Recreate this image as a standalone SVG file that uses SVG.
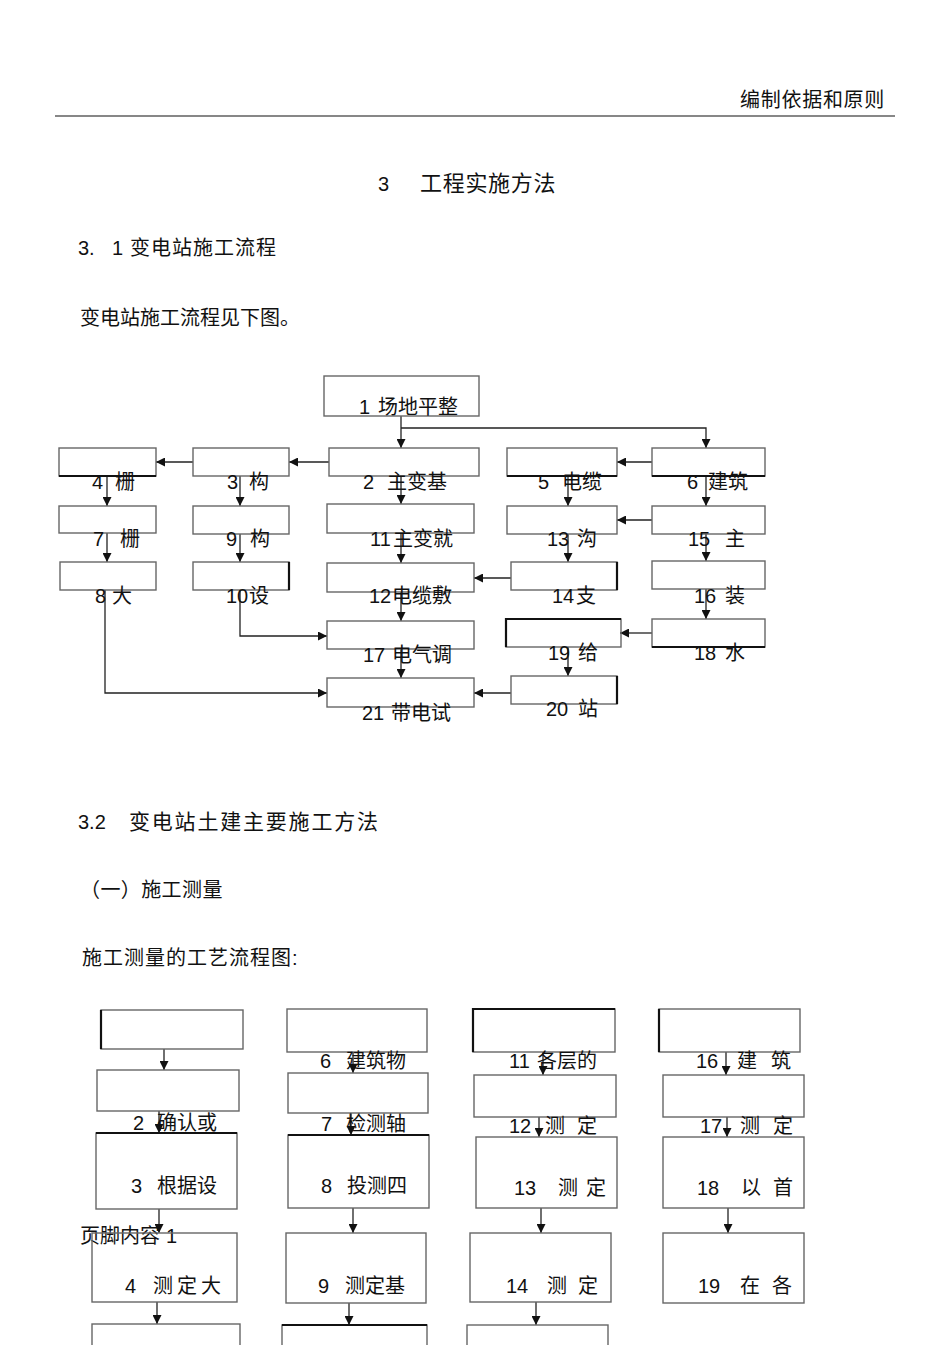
<svg xmlns="http://www.w3.org/2000/svg" width="950" height="1345" viewBox="0 0 950 1345">
<style>
text{font-family:"Liberation Sans","Noto Sans CJK SC",sans-serif;font-size:20px;fill:#111;}
.box{fill:none;stroke:#666;stroke-width:1.4;}
.edge{fill:none;stroke:#222;stroke-width:1.3;}
.thk{stroke:#111;stroke-width:2.2;fill:none;}
</style>
<defs>
<marker id="arr" viewBox="0 0 10 10" refX="10" refY="5" markerWidth="9" markerHeight="9" markerUnits="userSpaceOnUse" orient="auto" preserveAspectRatio="none">
<path d="M0,0 L10,5 L0,10 z" fill="#111"/>
</marker>
</defs>
<rect width="950" height="1345" fill="#fff"/>

<g id="page">
<text x="885" y="107" text-anchor="end" letter-spacing="0.7">编制依据和原则</text>
<line x1="55" y1="116" x2="895" y2="116" stroke="#111" stroke-width="1.2"/>
<text y="191"><tspan x="378">3</tspan><tspan x="420" font-size="22" letter-spacing="0.7">工程实施方法</tspan></text>
<text y="255"><tspan x="78">3.</tspan><tspan x="112">1</tspan><tspan x="130" letter-spacing="1">变电站施工流程</tspan></text>
<text x="80" y="325">变电站施工流程见下图。</text>
<text y="829"><tspan x="78">3.2</tspan><tspan x="129" font-size="21" letter-spacing="1.8">变电站土建主要施工方法</tspan></text>
<text x="80" y="897" letter-spacing="0.4">（一）施工测量</text>
<text x="82" y="965" letter-spacing="1">施工测量的工艺流程图:</text>
<text y="1243"><tspan x="80">页脚内容</tspan><tspan x="166">1</tspan></text>
</g>

<g id="connectors">
<path class="edge" d="M401 416 V448" marker-end="url(#arr)"/>
<path class="edge" d="M401 428 H706 V448" marker-end="url(#arr)"/>
<path class="edge" d="M329 462 H289" marker-end="url(#arr)"/>
<path class="edge" d="M193 462 H156" marker-end="url(#arr)"/>
<path class="edge" d="M652 462 H617" marker-end="url(#arr)"/>
<path class="edge" d="M107 476 V506" marker-end="url(#arr)"/>
<path class="edge" d="M240 476 V506" marker-end="url(#arr)"/>
<path class="edge" d="M401 476 V504" marker-end="url(#arr)"/>
<path class="edge" d="M568 476 V506" marker-end="url(#arr)"/>
<path class="edge" d="M706 476 V506" marker-end="url(#arr)"/>
<path class="edge" d="M652 520 H617" marker-end="url(#arr)"/>
<path class="edge" d="M107 533 V562" marker-end="url(#arr)"/>
<path class="edge" d="M240 534 V562" marker-end="url(#arr)"/>
<path class="edge" d="M401 533 V563" marker-end="url(#arr)"/>
<path class="edge" d="M568 534 V562" marker-end="url(#arr)"/>
<path class="edge" d="M706 534 V561" marker-end="url(#arr)"/>
<path class="edge" d="M511 578 H474" marker-end="url(#arr)"/>
<path class="edge" d="M706 589 V619" marker-end="url(#arr)"/>
<path class="edge" d="M240 590 V636 H327" marker-end="url(#arr)"/>
<path class="edge" d="M401 592 V621" marker-end="url(#arr)"/>
<path class="edge" d="M652 633 H620" marker-end="url(#arr)"/>
<path class="edge" d="M568 647 V676" marker-end="url(#arr)"/>
<path class="edge" d="M105 590 V693 H327" marker-end="url(#arr)"/>
<path class="edge" d="M401 649 V678" marker-end="url(#arr)"/>
<path class="edge" d="M511 693 H474" marker-end="url(#arr)"/>

<path class="edge" d="M164 1049 V1070" marker-end="url(#arr)"/>
<path class="edge" d="M159 1111 V1133" marker-end="url(#arr)"/>
<path class="edge" d="M159 1209 V1233" marker-end="url(#arr)"/>
<path class="edge" d="M157 1302 V1324" marker-end="url(#arr)"/>
<path class="edge" d="M353 1052 V1073" marker-end="url(#arr)"/>
<path class="edge" d="M351 1113 V1135" marker-end="url(#arr)"/>
<path class="edge" d="M353 1208 V1233" marker-end="url(#arr)"/>
<path class="edge" d="M349 1303 V1325" marker-end="url(#arr)"/>
<path class="edge" d="M543 1052 V1075" marker-end="url(#arr)"/>
<path class="edge" d="M539 1117 V1137" marker-end="url(#arr)"/>
<path class="edge" d="M541 1208 V1233" marker-end="url(#arr)"/>
<path class="edge" d="M536 1302 V1325" marker-end="url(#arr)"/>
<path class="edge" d="M726 1052 V1075" marker-end="url(#arr)"/>
<path class="edge" d="M727 1117 V1137" marker-end="url(#arr)"/>
<path class="edge" d="M728 1208 V1233" marker-end="url(#arr)"/>
</g>

<g id="t1"><rect class="box" x="324" y="376" width="155" height="40"/><text y="414"><tspan x="359">1</tspan><tspan x="378">场地平整</tspan></text></g>
<g id="t2"><rect class="box" x="329" y="448" width="150" height="28"/><text y="489"><tspan x="363">2</tspan><tspan x="387">主变基</tspan></text></g>
<g id="t3"><rect class="box" x="193" y="448" width="96" height="28"/><text y="489"><tspan x="227">3</tspan><tspan x="249">构</tspan></text></g>
<g id="t4"><rect class="box" x="59" y="448" width="97" height="28"/><line class="thk" x1="59" y1="476" x2="156" y2="476"/><text y="489"><tspan x="92">4</tspan><tspan x="115">栅</tspan></text></g>
<g id="t5"><rect class="box" x="507" y="448" width="110" height="28"/><line class="thk" x1="507" y1="476" x2="617" y2="476"/><text y="489"><tspan x="538">5</tspan><tspan x="562">电缆</tspan></text></g>
<g id="t6"><rect class="box" x="652" y="448" width="113" height="28"/><line class="thk" x1="652" y1="476" x2="765" y2="476"/><text y="489"><tspan x="687">6</tspan><tspan x="708">建筑</tspan></text></g>
<g id="t7"><rect class="box" x="59" y="506" width="97" height="27"/><text y="546"><tspan x="93">7</tspan><tspan x="120">栅</tspan></text></g>
<g id="t9"><rect class="box" x="193" y="506" width="96" height="28"/><text y="546"><tspan x="226">9</tspan><tspan x="250">构</tspan></text></g>
<g id="t11"><rect class="box" x="327" y="504" width="147" height="29"/><text y="546"><tspan x="370">11</tspan><tspan x="393">主变就</tspan></text></g>
<g id="t13"><rect class="box" x="507" y="506" width="110" height="28"/><text y="546"><tspan x="547">13</tspan><tspan x="577">沟</tspan></text></g>
<g id="t15"><rect class="box" x="652" y="506" width="113" height="28"/><text y="546"><tspan x="688">15</tspan><tspan x="725">主</tspan></text></g>
<g id="t8"><rect class="box" x="60" y="562" width="96" height="28"/><text y="603"><tspan x="95">8</tspan><tspan x="112">大</tspan></text></g>
<g id="t10"><rect class="box" x="193" y="562" width="96" height="28"/><line class="thk" x1="289" y1="562" x2="289" y2="590"/><text y="603"><tspan x="226">10</tspan><tspan x="249">设</tspan></text></g>
<g id="t12"><rect class="box" x="327" y="563" width="147" height="29"/><text y="603"><tspan x="369">12</tspan><tspan x="392">电缆敷</tspan></text></g>
<g id="t14"><rect class="box" x="511" y="562" width="106" height="28"/><line class="thk" x1="617" y1="562" x2="617" y2="590"/><text y="603"><tspan x="552">14</tspan><tspan x="576">支</tspan></text></g>
<g id="t16"><rect class="box" x="652" y="561" width="113" height="28"/><text y="603"><tspan x="694">16</tspan><tspan x="725">装</tspan></text></g>
<g id="t17"><rect class="box" x="327" y="621" width="147" height="28"/><text y="662"><tspan x="363">17</tspan><tspan x="392">电气调</tspan></text></g>
<g id="t19"><rect class="box" x="506" y="619" width="115" height="28"/><path class="thk" d="M506 647 V619 H621"/><text y="660"><tspan x="548">19</tspan><tspan x="578">给</tspan></text></g>
<g id="t18"><rect class="box" x="652" y="619" width="113" height="28"/><line class="thk" x1="652" y1="647" x2="765" y2="647"/><text y="660"><tspan x="694">18</tspan><tspan x="725">水</tspan></text></g>
<g id="t21"><rect class="box" x="327" y="678" width="147" height="29"/><text y="720"><tspan x="362">21</tspan><tspan x="391">带电试</tspan></text></g>
<g id="t20"><rect class="box" x="511" y="676" width="106" height="28"/><line class="thk" x1="617" y1="676" x2="617" y2="704"/><text y="716"><tspan x="546">20</tspan><tspan x="578">站</tspan></text></g>

<g id="a1"><rect class="box" x="101" y="1010" width="142" height="39"/><line class="thk" x1="101" y1="1010" x2="101" y2="1049"/></g>
<g id="a2"><rect class="box" x="97" y="1070" width="142" height="41"/><text y="1130"><tspan x="133">2</tspan><tspan x="157">确认或</tspan></text></g>
<g id="a3"><rect class="box" x="96" y="1133" width="141" height="76"/><line class="thk" x1="96" y1="1133" x2="237" y2="1133"/><text y="1193"><tspan x="131">3</tspan><tspan x="157">根据设</tspan></text></g>
<g id="a4"><rect class="box" x="92" y="1233" width="145" height="69"/><text y="1293"><tspan x="125">4</tspan><tspan x="153 177 201">测定大</tspan></text></g>
<g id="a5"><rect class="box" x="92" y="1324" width="148" height="40"/></g>
<g id="b1"><rect class="box" x="287" y="1009" width="140" height="43"/><text y="1068"><tspan x="320">6</tspan><tspan x="346">建筑物</tspan></text></g>
<g id="b2"><rect class="box" x="288" y="1073" width="140" height="40"/><text y="1131"><tspan x="321">7</tspan><tspan x="346">检测轴</tspan></text></g>
<g id="b3"><rect class="box" x="288" y="1135" width="141" height="73"/><line class="thk" x1="288" y1="1135" x2="429" y2="1135"/><text y="1193"><tspan x="321">8</tspan><tspan x="347">投测四</tspan></text></g>
<g id="b4"><rect class="box" x="286" y="1233" width="140" height="70"/><text y="1293"><tspan x="318">9</tspan><tspan x="345">测定基</tspan></text></g>
<g id="b5"><rect class="box" x="282" y="1325" width="145" height="40"/><line class="thk" x1="282" y1="1325" x2="427" y2="1325"/></g>
<g id="c1"><rect class="box" x="473" y="1009" width="142" height="43"/><path class="thk" d="M473 1052 V1009 H615"/><text y="1068"><tspan x="509">11</tspan><tspan x="537">各层的</tspan></text></g>
<g id="c2"><rect class="box" x="474" y="1075" width="142" height="42"/><text y="1133"><tspan x="509">12</tspan><tspan x="545 577">测定</tspan></text></g>
<g id="c3"><rect class="box" x="476" y="1137" width="141" height="71"/><text y="1195"><tspan x="514">13</tspan><tspan x="558 586">测定</tspan></text></g>
<g id="c4"><rect class="box" x="470" y="1233" width="141" height="69"/><text y="1293"><tspan x="506">14</tspan><tspan x="547 578">测定</tspan></text></g>
<g id="c5"><rect class="box" x="467" y="1325" width="141" height="40"/></g>
<g id="d1"><rect class="box" x="659" y="1009" width="141" height="43"/><line class="thk" x1="659" y1="1009" x2="659" y2="1052"/><text y="1068"><tspan x="696">16</tspan><tspan x="737 771">建筑</tspan></text></g>
<g id="d2"><rect class="box" x="663" y="1075" width="141" height="42"/><text y="1133"><tspan x="700">17</tspan><tspan x="740 773">测定</tspan></text></g>
<g id="d3"><rect class="box" x="663" y="1137" width="141" height="71"/><text y="1195"><tspan x="697">18</tspan><tspan x="741 773">以首</tspan></text></g>
<g id="d4"><rect class="box" x="663" y="1233" width="141" height="70"/><text y="1293"><tspan x="698">19</tspan><tspan x="740 772">在各</tspan></text></g>
</svg>
